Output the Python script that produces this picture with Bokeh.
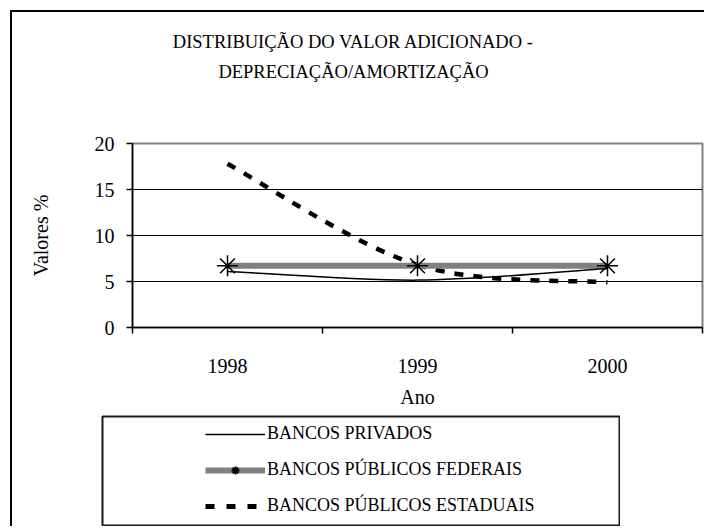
from bokeh.plotting import figure
from bokeh.layouts import column, row
from bokeh.models import Range1d, FixedTicker, Legend, LegendItem, Label, Spacer
from bokeh.embed import file_html
from bokeh.resources import INLINE

title_lines = ["DISTRIBUIÇÃO DO VALOR ADICIONADO -", "DEPRECIAÇÃO/AMORTIZAÇÃO"]
anos = ["1998", "1999", "2000"]
privados = [6.1, 5.15, 6.4]
federais = [6.7, 6.7, 6.7]
estaduais = [17.8, 6.8, 4.9]
y_ticks = [0, 5, 10, 15, 20]
grid_ticks = [5, 10, 15]
series_names = ["BANCOS PRIVADOS", "BANCOS PÚBLICOS FEDERAIS", "BANCOS PÚBLICOS ESTADUAIS"]
x_label = "Ano"
y_label = "Valores %"

FONT = "Liberation Serif"
W = 692
BL, BR = 120, 2          # left / right borders shared by title strip and chart
xs = [i + 0.5 for i in range(len(anos))]


def smooth(xv, yv):
    n = len(xv)
    d = dict(x0=[], y0=[], x1=[], y1=[], cx0=[], cy0=[], cx1=[], cy1=[])
    for i in range(n - 1):
        p_ = i - 1 if i > 0 else i
        q = i + 2 if i + 2 < n else i + 1
        d["x0"].append(xv[i]); d["y0"].append(yv[i])
        d["x1"].append(xv[i + 1]); d["y1"].append(yv[i + 1])
        d["cx0"].append(xv[i] + (xv[i + 1] - xv[p_]) / 6)
        d["cy0"].append(yv[i] + (yv[i + 1] - yv[p_]) / 6)
        d["cx1"].append(xv[i + 1] - (xv[q] - xv[i]) / 6)
        d["cy1"].append(yv[i + 1] - (yv[q] - yv[i]) / 6)
    return d


# ---------- title strip (frame in page pixel units) ----------
TH = 120
pt = figure(width=W, height=TH, output_backend="svg", toolbar_location=None,
            x_range=Range1d(132, 702), y_range=Range1d(132, 12),
            x_axis_location=None, y_axis_location=None,
            min_border_left=BL, min_border_right=BR, min_border_top=0, min_border_bottom=0)
pt.outline_line_color = None
pt.grid.visible = False
for i, t in enumerate(title_lines):
    pt.add_layout(Label(x=353, y=41 + 30 * i, text=t, text_align="center", text_baseline="middle",
                        text_font=FONT, text_font_size="18.5px", text_color="black"))

# ---------- main chart ----------
p = figure(width=W, height=283, output_backend="svg", toolbar_location=None,
           x_range=Range1d(0, len(anos)), y_range=Range1d(0, 20),
           min_border_left=BL, min_border_right=BR, min_border_top=11, min_border_bottom=88)
p.background_fill_color = "white"
p.border_fill_color = "white"
p.outline_line_color = "#808080"
p.outline_line_width = 2

p.xgrid.visible = False
p.ygrid.ticker = FixedTicker(ticks=grid_ticks)
p.ygrid.grid_line_color = "black"
p.ygrid.grid_line_width = 1

xa = p.xaxis[0]
xa.ticker = FixedTicker(ticks=xs, minor_ticks=list(range(len(anos) + 1)))
xa.major_label_overrides = {x: a for x, a in zip(xs, anos)}
xa.major_tick_out = 0
xa.major_tick_in = 0
xa.minor_tick_out = 6
xa.minor_tick_in = 0
xa.minor_tick_line_color = "black"
xa.minor_tick_line_width = 1.5
xa.axis_line_color = "black"
xa.axis_line_width = 1.5
xa.major_label_standoff = 25
xa.major_label_text_font = FONT
xa.major_label_text_font_size = "20px"
xa.major_label_text_color = "black"
xa.axis_label = x_label
xa.axis_label_text_font = FONT
xa.axis_label_text_font_size = "20px"
xa.axis_label_text_font_style = "normal"
xa.axis_label_text_color = "black"
xa.axis_label_standoff = 10

ya = p.yaxis[0]
ya.ticker = FixedTicker(ticks=y_ticks)
ya.major_tick_out = 6
ya.major_tick_in = 0
ya.minor_tick_line_color = None
ya.major_tick_line_color = "black"
ya.major_tick_line_width = 1.5
ya.axis_line_color = "black"
ya.axis_line_width = 1.5
ya.major_label_standoff = 12
ya.major_label_text_font = FONT
ya.major_label_text_font_size = "20px"
ya.major_label_text_color = "black"
ya.axis_label = y_label
ya.axis_label_text_font = FONT
ya.axis_label_text_font_size = "20px"
ya.axis_label_text_font_style = "normal"
ya.axis_label_text_color = "black"
ya.axis_label_standoff = 40

sp = smooth(xs, privados)
se = smooth(xs, estaduais)
p.bezier(x0="x0", y0="y0", x1="x1", y1="y1", cx0="cx0", cy0="cy0", cx1="cx1", cy1="cy1",
         source=se, line_color="black", line_width=4.5, line_dash="9 10")
p.line(xs, federais, line_color="#808080", line_width=6)
p.bezier(x0="x0", y0="y0", x1="x1", y1="y1", cx0="cx0", cy0="cy0", cx1="cx1", cy1="cy1",
         source=sp, line_color="black", line_width=1.5)
p.scatter(xs, federais, marker="asterisk", size=21, line_color="black", line_width=1.5)

# ---------- legend box (its own small figure; series drawn out of its view, legend only) ----------
pl = figure(width=519, height=111, output_backend="svg", toolbar_location=None,
            x_range=Range1d(-20, -10), y_range=Range1d(-20, -10),
            x_axis_location=None, y_axis_location=None,
            min_border_left=1, min_border_right=1, min_border_top=1, min_border_bottom=1)
pl.outline_line_color = "#1a1a1a"
pl.outline_line_width = 2
pl.grid.visible = False
lp = pl.line(xs, privados, line_color="black", line_width=1.5)
lf = pl.line(xs, federais, line_color="#808080", line_width=6)
lfm = pl.scatter(xs, federais, marker="asterisk", size=22, line_color="black", line_width=2)
le = pl.line(xs, estaduais, line_color="black", line_width=5, line_dash="9 12")
legend = Legend(items=[LegendItem(label=series_names[0], renderers=[lp]),
                       LegendItem(label=series_names[1], renderers=[lf, lfm]),
                       LegendItem(label=series_names[2], renderers=[le])],
                location=(103, 9), orientation="vertical",
                glyph_width=60, glyph_height=20, label_height=20, spacing=15,
                padding=0, margin=0, label_standoff=2,
                border_line_color=None, background_fill_alpha=0,
                label_text_font=FONT, label_text_font_size="18px", label_text_color="black")
pl.add_layout(legend, "center")

layout = column(pt, p, row(Spacer(width=89, height=111), pl, spacing=0), spacing=0,
                styles={"margin-left": "10px", "margin-top": "10px",
                        "border-left": "2px solid black", "border-top": "2px solid black"})

open("out.html", "w").write(file_html(layout, INLINE))
